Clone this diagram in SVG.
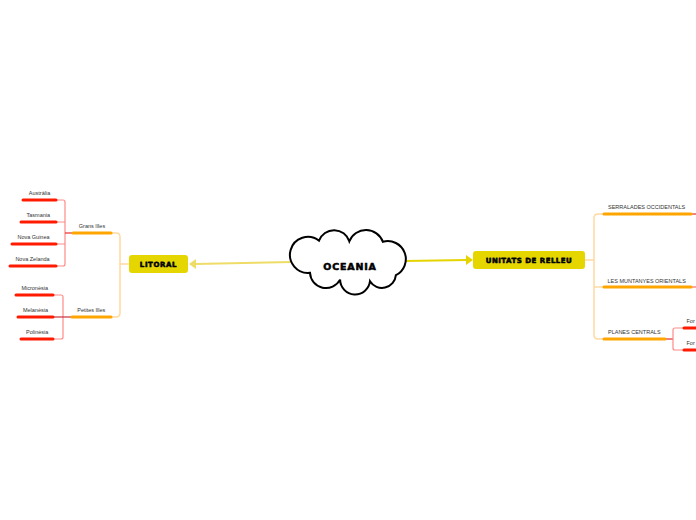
<svg xmlns="http://www.w3.org/2000/svg" width="696" height="520" viewBox="0 0 696 520">
<style>
.lbl{font-family:"Liberation Sans",Arial,sans-serif;font-size:5.5px;fill:#333;}
.mid{text-anchor:middle;}
.big{font-family:"DejaVu Sans","Liberation Sans",sans-serif;font-weight:bold;fill:#000;stroke:#000;stroke-width:0.55;stroke-linejoin:round;text-anchor:middle;}
.ul-o{stroke:#ffa500;stroke-width:3;fill:none;stroke-linecap:round;}
.ul-r{stroke:#ff1a00;stroke-width:3;fill:none;stroke-linecap:round;}
.br-o{stroke:#ffd9a0;stroke-width:1.5;fill:none;}
.br-r{stroke:#ff8a8a;stroke-width:1.2;fill:none;}
.box{fill:#e6d600;}
</style>
<rect width="696" height="520" fill="#fff"/>
<g id="connectors">
  <line x1="292" y1="262" x2="195" y2="264" stroke="#eedc66" stroke-width="2"/>
  <polygon points="189,264 196,259 196,269" fill="#eedc66"/>
  <line x1="405" y1="261" x2="467" y2="260" stroke="#e6d400" stroke-width="2"/>
  <polygon points="473,260 466,255 466,265" fill="#e6d400"/>
  <path class="br-o" d="M112,233 H116 Q120,233 120,237 V313 Q120,317 116,317 H111 M120,264 H129"/>
  <path class="br-r" d="M56,200 H63 Q65,200 65,202 V264 Q65,266 63,266 H56 M56,222 H65 M56,244 H65"/>
  <line x1="65" y1="233" x2="73" y2="233" stroke="#e83030" stroke-width="1.2"/>
  <path class="br-r" d="M54,295 H61 Q63,295 63,297 V337 Q63,339 61,339 H54"/>
  <line x1="54" y1="317" x2="71" y2="317" stroke="#c83040" stroke-width="1.2"/>
  <path class="br-o" d="M585,260 H594 M603,214 H598 Q594,214 594,218 V335 Q594,339 598,339 H603 M594,287 H603"/>
  <line x1="692" y1="214" x2="696" y2="214" stroke="#e83030" stroke-width="1.2"/>
  <line x1="692" y1="287" x2="696" y2="287" stroke="#ff8a8a" stroke-width="1.5"/>
  <line x1="666" y1="339" x2="673" y2="339" stroke="#e83030" stroke-width="1.2"/>
  <path class="br-r" d="M683,328 H675 Q673,328 673,330 V348 Q673,350 675,350 H683"/>
</g>
<g id="oceania">
  <path d="M319,240.7 A16,16 0 0,1 349.3,241.3 A18,18 0 0,1 382.9,241.8 A18,18 0 0,1 395.9,275.2 A14,14 0 0,1 370,281.2 A15,15 0 0,1 340.1,279.6 A16,16 0 0,1 310,272.8 A18,18 0 1,1 319,240.7 Z" fill="#fff" stroke="#000" stroke-width="2"/>
  <text class="big" x="350" y="270" font-size="9.5" letter-spacing="0.8">OCEANIA</text>
</g>
<g id="litoral">
  <rect class="box" x="129" y="255" width="59" height="18" rx="3"/>
  <text class="big" x="158.5" y="267" font-size="7" letter-spacing="0.6" stroke-width="0.4">LITORAL</text>
</g>
<g id="unitats">
  <rect class="box" x="473" y="251" width="112" height="18" rx="3"/>
  <text class="big" x="529" y="263" font-size="7" letter-spacing="0.5" stroke-width="0.4">UNITATS DE RELLEU</text>
</g>
<g id="grans-illes">
  <text class="lbl mid" x="92" y="228">Grans Illes</text>
  <line class="ul-o" x1="73" y1="233" x2="111" y2="233"/>
</g>
<g id="australia">
  <text class="lbl mid" x="39.5" y="195">Austràlia</text>
  <line class="ul-r" x1="23" y1="200" x2="56" y2="200"/>
</g>
<g id="tasmania">
  <text class="lbl mid" x="38.3" y="217">Tasmania</text>
  <line class="ul-r" x1="21" y1="222" x2="56" y2="222"/>
</g>
<g id="nova-guinea">
  <text class="lbl mid" x="33.5" y="239">Nova Guinea</text>
  <line class="ul-r" x1="12" y1="244" x2="56" y2="244"/>
</g>
<g id="nova-zelanda">
  <text class="lbl mid" x="32.5" y="261">Nova Zelanda</text>
  <line class="ul-r" x1="10" y1="266" x2="56" y2="266"/>
</g>
<g id="petites-illes">
  <text class="lbl mid" x="91.3" y="312">Petites Illes</text>
  <line class="ul-o" x1="72" y1="317" x2="111" y2="317"/>
</g>
<g id="micronesia">
  <text class="lbl mid" x="34.7" y="289.5">Micronèsia</text>
  <line class="ul-r" x1="16" y1="295" x2="53" y2="295"/>
</g>
<g id="melanesia">
  <text class="lbl mid" x="35.5" y="312">Melanèsia</text>
  <line class="ul-r" x1="18" y1="317" x2="53" y2="317"/>
</g>
<g id="polinesia">
  <text class="lbl mid" x="37.2" y="334">Polinèsia</text>
  <line class="ul-r" x1="21" y1="339" x2="53" y2="339"/>
</g>
<g id="serralades">
  <text class="lbl" x="608" y="208.5">SERRALADES OCCIDENTALS</text>
  <line class="ul-o" x1="604" y1="214" x2="691" y2="214"/>
</g>
<g id="muntanyes">
  <text class="lbl" x="607.5" y="283">LES MUNTANYES ORIENTALS</text>
  <line class="ul-o" x1="604" y1="287" x2="691" y2="287"/>
</g>
<g id="planes">
  <text class="lbl" x="608" y="334">PLANES CENTRALS</text>
  <line class="ul-o" x1="604" y1="339" x2="665" y2="339"/>
</g>
<g id="for-1">
  <text class="lbl" x="686.5" y="322.5">For</text>
  <line class="ul-r" x1="684" y1="328" x2="700" y2="328"/>
</g>
<g id="for-2">
  <text class="lbl" x="686.5" y="344.5">For</text>
  <line class="ul-r" x1="684" y1="350" x2="700" y2="350"/>
</g>
</svg>
